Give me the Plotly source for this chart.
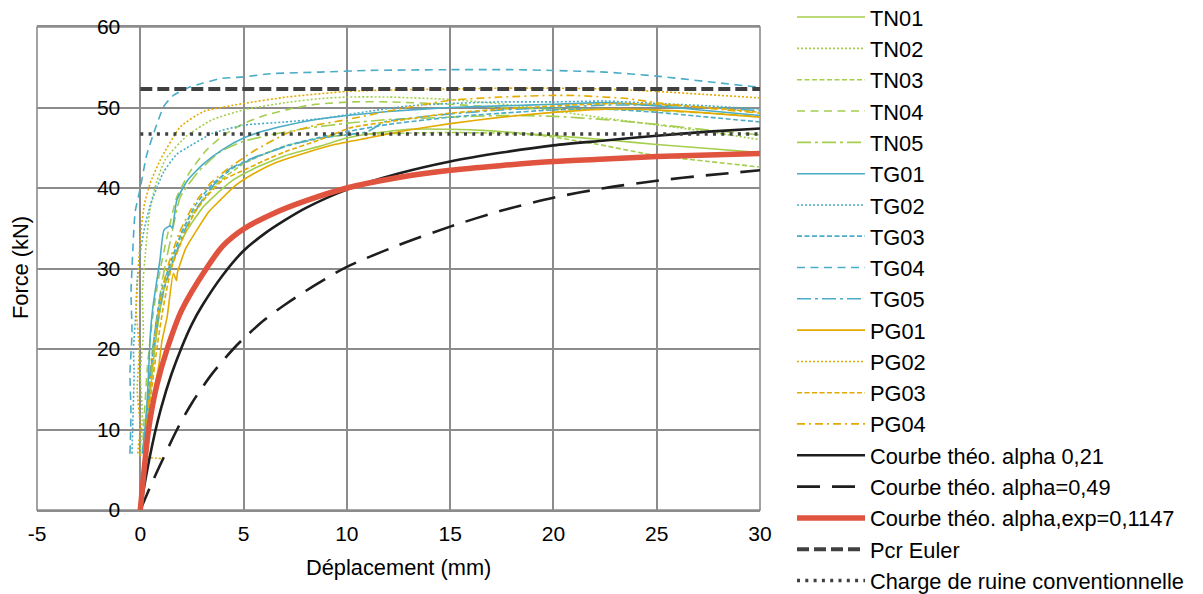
import plotly.graph_objects as go

# ---------------- data ----------------
TN01_x = [0.2, 0.3, 0.5, 0.7, 0.9, 1.2, 1.6, 2.2, 3.0, 3.5, 4.5, 5.5, 7.0, 8.7, 10, 11, 13, 15, 17, 20, 22.5, 25, 27.5, 30]
TN01_y = [6.5, 10, 15, 20, 24, 28, 31, 34.5, 37.5, 38.8, 41, 42.4, 44, 45.2, 46.2, 46.7, 47.3, 47.3, 47.1, 46.5, 46.0, 45.4, 44.9, 44.4]

TN02_x = [0.0, 0.1, 0.0, 0.15, 0.1, 0.25, 0.45, 0.7, 1.2, 2.26, 3.5, 5, 7, 8.7, 10, 12, 15, 18, 20, 23, 26, 28, 30]
TN02_y = [7, 12, 17, 22, 27, 32, 37, 40, 43.5, 46.5, 48.5, 49.7, 50.6, 51.1, 51.3, 51.3, 51.0, 50.3, 49.6, 48.5, 47.5, 46.8, 46.0]

TN03_x = [0.3, 0.4, 0.6, 0.9, 1.3, 1.8, 2.3, 3.0, 3.9, 5.0, 5.8, 7.0, 8.7, 10, 12.6, 15, 17.5, 19.5, 22, 24.8, 27.5, 30]
TN03_y = [6, 12, 18, 24, 29, 33, 36, 38.5, 41, 43, 44, 45.2, 46.2, 46.6, 46.8, 46.9, 46.8, 46.5, 45.5, 44.1, 43.3, 42.6]

TN04_x = [0.1, 0.2, 0.35, 0.6, 0.9, 1.3, 1.77, 2.4, 3.2, 4.0, 5.0, 6.0, 7.4, 8.5, 10.3, 12, 15, 17.5, 20, 22.5, 25, 27.5, 30]
TN04_y = [7, 12, 18, 24, 29, 34, 38.9, 42, 44.7, 46.5, 48, 49, 49.9, 50.4, 50.7, 50.7, 50.4, 50.0, 49.8, 49.8, 49.6, 49.3, 48.9]

TN05_x = [0.2, 0.3, 0.5, 0.8, 1.1, 1.5, 1.94, 2.8, 3.87, 5.0, 6.3, 8.0, 10.2, 12, 15, 17.5, 20, 22.5, 25, 27.5, 30]
TN05_y = [7, 12, 18, 24, 29, 34, 38.9, 42, 44.5, 45.8, 46.6, 47.4, 48.1, 48.5, 48.8, 49.0, 48.9, 48.5, 47.9, 47.2, 46.6]

TG01_x = [0.1, 0.3, 0.4, 0.48, 0.6, 0.73, 0.95, 1.15, 1.45, 1.55, 1.77, 2.3, 3.06, 4.0, 5.0, 6.0, 7.1, 8.5, 10, 12, 15, 17.5, 20, 22.5, 25, 27.5, 30]
TG01_y = [7, 12, 17, 21.5, 25, 27.3, 31, 34.8, 35.3, 35.0, 38.5, 41, 43, 44.8, 46.2, 47.1, 47.8, 48.5, 49.0, 49.5, 50.0, 50.2, 50.4, 50.6, 50.2, 49.6, 49.0]

TG02_x = [-0.4, -0.35, -0.3, -0.33, -0.2, -0.16, 0.0, 0.2, 0.5, 1.13, 1.77, 2.26, 3.5, 5.0, 7.0, 8.7, 11, 13, 15, 17.5, 20, 22.5, 25, 27.5, 30]
TG02_y = [7, 12, 17, 20, 25, 28.2, 32, 35, 38, 42, 44.2, 45, 46.8, 47.8, 48.2, 48.6, 49.5, 50.2, 50.5, 50.7, 50.7, 50.8, 50.5, 50.2, 49.8]

TG03_x = [0.2, 0.3, 0.5, 0.7, 1.0, 1.5, 2.0, 2.7, 3.5, 4.5, 5.5, 7.0, 8.7, 10, 12, 15, 17.5, 20, 22.5, 25, 27.5, 30]
TG03_y = [7, 12, 17, 22, 27, 31, 34.5, 38, 40.5, 42.5, 43.7, 45.2, 46.3, 47.0, 47.9, 48.8, 49.3, 49.7, 49.8, 49.4, 48.8, 48.2]

TG04_x = [-0.5, -0.45, -0.5, -0.4, -0.45, -0.4, -0.35, -0.25, 0.0, 0.3, 0.65, 1.13, 1.6, 2.26, 3.0, 3.9, 5.0, 6.3, 8.7, 11, 15, 18, 20, 22.5, 25, 27.5, 30]
TG04_y = [7, 12, 17, 22, 27, 30, 33, 37, 40, 44, 46.8, 50.1, 51.5, 52.4, 53.0, 53.6, 53.8, 54.2, 54.4, 54.6, 54.7, 54.7, 54.6, 54.4, 53.9, 53.2, 52.5]

TG05_x = [0.2, 0.35, 0.5, 0.75, 1.1, 1.6, 2.2, 3.0, 3.6, 4.35, 5.5, 6.3, 7.5, 9.0, 11, 11.8, 12.8, 15, 17.5, 20, 22.5, 25, 27.5, 30]
TG05_y = [7, 12, 17, 22, 27, 31, 35, 38.5, 40.5, 42.4, 43.8, 44.5, 45.5, 46.3, 47.0, 48.2, 48.6, 49.2, 49.7, 50.0, 50.3, 50.3, 50.0, 49.6]

PG01_x = [0.3, 0.4, 0.6, 0.9, 1.05, 1.3, 1.6, 1.75, 1.8, 2.2, 2.74, 3.3, 3.87, 4.6, 5.5, 6.6, 7.9, 9.4, 11, 13, 15, 17.5, 20, 22.5, 25, 27.5, 30]
PG01_y = [6, 10, 14, 18, 21, 24, 29.4, 28.5, 29.5, 32.5, 34.8, 37, 38.5, 40.3, 41.8, 43.2, 44.3, 45.4, 46.2, 47.2, 48.0, 48.8, 49.4, 49.8, 49.7, 49.3, 48.8]

PG02_x = [1.0, 0.2, -0.1, 0.0, -0.15, -0.05, -0.2, -0.1, 0.05, 0.2, 0.48, 0.97, 1.94, 3.06, 5.0, 7.1, 10, 12.5, 15, 17.5, 20, 22.5, 25, 27.5, 30]
PG02_y = [6.4, 6.6, 7, 10, 15, 20, 25, 30, 35, 38, 40.6, 43.5, 47.6, 49.5, 50.5, 51.3, 52.0, 52.2, 52.3, 52.4, 52.4, 52.3, 52.0, 51.6, 51.2]

PG03_x = [0.25, 0.35, 0.55, 0.8, 1.1, 1.5, 2.1, 2.6, 3.2, 4.0, 5.0, 6.0, 7.0, 8.7, 10.2, 12.5, 15, 17.5, 20.8, 23, 25, 27.5, 30]
PG03_y = [6, 10, 15, 20, 25, 30, 34, 36.8, 38.9, 41, 42.2, 43.4, 44.5, 46.0, 47.5, 48.4, 49.3, 49.8, 50.3, 50.5, 50.4, 50.0, 49.4]

PG04_x = [0.2, 0.3, 0.45, 0.65, 0.9, 1.3, 1.9, 2.6, 3.4, 4.35, 5.5, 7.1, 8.5, 10, 12.5, 15, 17.5, 19.8, 21, 23.6, 25, 27.5, 30]
PG04_y = [6, 10, 15, 20, 25, 30, 34.5, 38, 40.6, 42.6, 44.6, 46.8, 47.8, 48.5, 49.8, 50.9, 51.3, 51.5, 51.5, 51.1, 50.6, 49.9, 49.3]

THEO021_x = [0, 0.25, 0.7, 1.0, 1.5, 2.0, 2.5, 3.0, 4.0, 5.0, 6.0, 7.0, 8.0, 10, 12.5, 15, 17.5, 20, 22.5, 25, 27.5, 30]
THEO021_y = [0, 3.8, 9.5, 12.6, 16.8, 20.2, 23.1, 25.4, 29.2, 32.2, 34.3, 36.0, 37.5, 39.8, 41.8, 43.3, 44.4, 45.3, 45.9, 46.5, 47.0, 47.4]

THEO049_x = [0, 0.5, 1.0, 1.78, 2.5, 3.5, 4.5, 5.0, 6.0, 7.0, 8.5, 10, 12.5, 15, 17.5, 20, 22.5, 25, 27.5, 30]
THEO049_y = [0, 3, 5.8, 10, 13.3, 17.0, 20.0, 21.3, 23.6, 25.5, 28.0, 30.2, 32.9, 35.2, 37.2, 38.8, 40.0, 40.9, 41.6, 42.2]

THEOEXP_x = [0, 0.16, 0.4, 0.8, 1.3, 2.0, 3.2, 4.0, 5.0, 6.5, 8.0, 10, 12.5, 15, 17.5, 20, 22.5, 25, 27.5, 30]
THEOEXP_y = [0, 4.3, 10, 15.5, 20, 24.8, 30, 32.8, 34.9, 36.9, 38.4, 40.0, 41.3, 42.2, 42.8, 43.3, 43.6, 43.9, 44.1, 44.3]

PCR_EULER_x = [0, 30]
PCR_EULER_y = [52.3, 52.3]
RUINE_x = [0, 30]
RUINE_y = [46.7, 46.7]

X_TICKS = [-5, 0, 5, 10, 15, 20, 25, 30]
Y_TICKS = [0, 10, 20, 30, 40, 50, 60]

# ---------------- styles ----------------
GREEN = "#A4CE4E"
TEAL = "#4BACC6"
GOLD = "#E3AA00"
FONT = "Liberation Sans, Arial, sans-serif"
LEG_FONT = 21.8

W, H = 1203, 594
OFF = 8  # page offset of the figure inside the browser page (body margin)

experimental = [
    ("TN01", TN01_x, TN01_y, GREEN, "solid"),
    ("TN02", TN02_x, TN02_y, GREEN, "2px,2px"),
    ("TN03", TN03_x, TN03_y, GREEN, "5px,2.5px"),
    ("TN04", TN04_x, TN04_y, GREEN, "8px,5.5px"),
    ("TN05", TN05_x, TN05_y, GREEN, "14px,4px,3px,4px"),
    ("TG01", TG01_x, TG01_y, TEAL, "solid"),
    ("TG02", TG02_x, TG02_y, TEAL, "2px,2px"),
    ("TG03", TG03_x, TG03_y, TEAL, "5px,2.5px"),
    ("TG04", TG04_x, TG04_y, TEAL, "8px,5.5px"),
    ("TG05", TG05_x, TG05_y, TEAL, "14px,4px,3px,4px"),
    ("PG01", PG01_x, PG01_y, GOLD, "solid"),
    ("PG02", PG02_x, PG02_y, GOLD, "2px,2px"),
    ("PG03", PG03_x, PG03_y, GOLD, "5px,2.5px"),
    ("PG04", PG04_x, PG04_y, GOLD, "8px,4px,2px,4px"),
]


def legend_of(idx):
    if idx < 7:
        return "legend"
    if idx < 13:
        return "legend2"
    return "legend3"


fig = go.Figure()
for i, (name, xs, ys, col, dash) in enumerate(experimental):
    fig.add_trace(go.Scatter(x=xs, y=ys, mode="lines", name=name, legend=legend_of(i),
                             line=dict(color=col, width=1.6, dash=dash, shape="spline", smoothing=0.5)))

theo = [
    ("Courbe théo. alpha 0,21", THEO021_x, THEO021_y, dict(color="#1E1E1E", width=2.6, shape="spline", smoothing=0.8)),
    ("Courbe théo. alpha=0,49", THEO049_x, THEO049_y, dict(color="#1E1E1E", width=2.6, dash="23px,12px", shape="spline", smoothing=0.8)),
    ("Courbe théo. alpha,exp=0,1147", THEOEXP_x, THEOEXP_y, dict(color="#E0533F", width=5.5, shape="spline", smoothing=0.8)),
    ("Pcr Euler", PCR_EULER_x, PCR_EULER_y, dict(color="#404040", width=4, dash="12px,5px")),
    ("Charge de ruine conventionnelle", RUINE_x, RUINE_y, dict(color="#404040", width=3.5, dash="3px,5.3px")),
]
for j, (name, xs, ys, line) in enumerate(theo):
    fig.add_trace(go.Scatter(x=xs, y=ys, mode="lines", name=name,
                             legend=legend_of(len(experimental) + j), line=line))

# plot area in page pixels: x 37..760, y 27..510
PL, PT, PW, PH = 37 - OFF, 27 - OFF, 723, 483

# legend geometry (reference page pixels: first entry centre 17, spacing 31.3, text starts at 870)
ITEM_H = LEG_FONT * 1.3 + 3
FIRST_C = 17 - OFF
STEP = 31.3
ITEM_W = 68
LEG_LEFT = 870 - OFF - (ITEM_W + 10)


def leg_top(first_idx):
    return FIRST_C + first_idx * STEP - (ITEM_H / 2 + 5)


leg_common = dict(xref="container", xanchor="left", yanchor="top", itemwidth=ITEM_W,
                  x=LEG_LEFT / W, font=dict(family=FONT, size=LEG_FONT, color="#000000"),
                  bgcolor="rgba(0,0,0,0)", borderwidth=0, traceorder="normal")

GRID = "#8C8C8C"
fig.update_layout(
    width=W, height=H,
    margin=dict(l=PL, r=W - PL - PW, t=PT, b=H - PT - PH, autoexpand=False),
    paper_bgcolor="white", plot_bgcolor="white",
    font=dict(family=FONT, size=21, color="#000000"),
    showlegend=True,
    legend=dict(leg_common, yref="paper", y=1 - (leg_top(0) - PT) / PH),
    legend2=dict(leg_common, yref="container", y=1 - leg_top(7) / H),
    legend3=dict(leg_common, yref="container", y=1 - leg_top(13) / H),
    xaxis=dict(range=[-5, 30], tickvals=X_TICKS, ticktext=[str(v) for v in X_TICKS],
               showgrid=True, gridcolor=GRID, gridwidth=1.6, zeroline=False,
               showline=True, linecolor=GRID, linewidth=1.6, mirror=True,
               ticks="", ticklabelstandoff=4, tickfont=dict(size=21), automargin=False),
    yaxis=dict(range=[0, 60], tickvals=Y_TICKS, ticktext=[str(v) for v in Y_TICKS],
               anchor="free", position=5 / 35,
               showgrid=True, gridcolor=GRID, gridwidth=1.6, zeroline=False,
               showline=False, ticks="", ticklabelstandoff=20, tickfont=dict(size=21),
               automargin=False),
    shapes=[dict(type="rect", xref="paper", yref="paper", x0=0, x1=1, y0=0, y1=1,
                 line=dict(color=GRID, width=1.6), layer="below")],
    annotations=[
        dict(text="Déplacement (mm)", xref="paper", yref="paper", x=0.5, y=-(567 - 510) / PH,
             xanchor="center", yanchor="middle", showarrow=False, font=dict(size=LEG_FONT)),
        dict(text="Force (kN)", xref="paper", yref="paper", x=(20 - 37) / PW, y=(510 - 268) / PH,
             xanchor="center", yanchor="middle", textangle=-90, showarrow=False, font=dict(size=LEG_FONT)),
    ],
)

fig.write_html("out.html")
